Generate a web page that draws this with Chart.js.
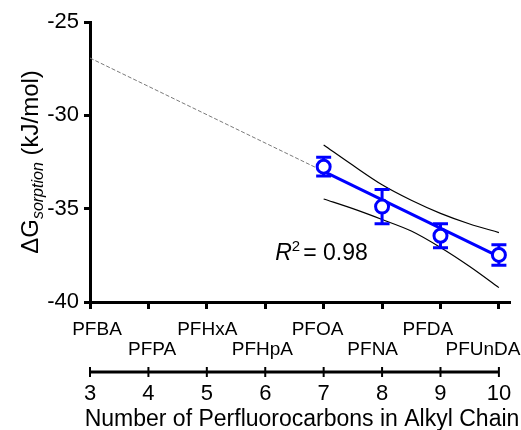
<!DOCTYPE html>
<html>
<head>
<meta charset="utf-8">
<title>Sorption free energy vs chain length</title>
<script src="https://cdn.jsdelivr.net/npm/chart.js@4.4.1/dist/chart.umd.min.js"></script>
<style>
  html, body { margin: 0; padding: 0; background: #fff; }
  canvas { display: block; }
</style>
</head>
<body>
<canvas id="chart" width="521" height="430"></canvas>
<script>
// chain length (number of perfluorinated carbons) and the acid for each
const carbons = [3, 4, 5, 6, 7, 8, 9, 10];
const acids = ['PFBA', 'PFPA', 'PFHxA', 'PFHpA', 'PFOA', 'PFNA', 'PFDA', 'PFUnDA'];

// measured dG of sorption (kJ/mol) with error
const measuredX = [7, 8, 9, 10];
const measuredG = [-32.75, -34.89, -36.45, -37.48];
const measuredErr = [0.5, 0.92, 0.64, 0.55];

// linear fit: dashed extrapolation 3..7, solid over the data 7..10
const fitX = [3, 7, 10];
const fitG = [-26.93, -33.0, -37.57];

// 95% confidence band of the fit
const bandX = [7, 7.5, 8, 8.5, 9, 9.5, 10];
const bandUpper = [-31.59, -32.68, -33.72, -34.55, -35.25, -35.82, -36.28];
const bandLower = [-34.48, -35.0, -35.58, -36.2, -37.08, -38.1, -39.23];

const rSquared = 0.98;

const FONT = "'Liberation Sans', Arial, Helvetica, sans-serif";
const BLUE = '#0000ff';

const pts = (xs, ys) => xs.map((x, i) => ({ x, y: ys[i] }));

// error bars go under the circles, so draw them just before the point dataset
const errorBars = {
  id: 'errorBars',
  beforeDatasetDraw(chart, args) {
    if (args.meta.label !== 'measured') return;
    const { ctx, scales: { x, y } } = chart;
    ctx.save();
    ctx.strokeStyle = BLUE;
    ctx.lineWidth = 3;
    measuredX.forEach((v, i) => {
      const px = x.getPixelForValue(v);
      const top = y.getPixelForValue(measuredG[i] + measuredErr[i]);
      const bot = y.getPixelForValue(measuredG[i] - measuredErr[i]);
      ctx.beginPath();
      ctx.moveTo(px, top); ctx.lineTo(px, bot);
      ctx.moveTo(px - 7.5, top); ctx.lineTo(px + 7.5, top);
      ctx.moveTo(px - 7.5, bot); ctx.lineTo(px + 7.5, bot);
      ctx.stroke();
    });
    ctx.restore();
  }
};

// second x axis: line 3..10 with ticks crossing it, and its title
const carbonAxis = {
  id: 'carbonAxis',
  afterDraw(chart) {
    const { ctx, chartArea } = chart;
    const s = chart.scales.n;
    const yy = s.top + 12;
    ctx.save();
    ctx.strokeStyle = '#000';
    ctx.lineWidth = 3;
    ctx.beginPath();
    ctx.moveTo(s.getPixelForValue(carbons[0]), yy);
    ctx.lineTo(s.getPixelForValue(carbons[carbons.length - 1]), yy);
    ctx.stroke();
    ctx.lineWidth = 2;
    carbons.forEach(v => {
      const px = s.getPixelForValue(v);
      ctx.beginPath();
      ctx.moveTo(px, yy - 5); ctx.lineTo(px, yy + 5);
      ctx.stroke();
    });
    ctx.fillStyle = '#000';
    ctx.font = '23px ' + FONT;
    ctx.textAlign = 'center';
    ctx.textBaseline = 'alphabetic';
    ctx.fillText('Number of Perfluorocarbons in Alkyl Chain', (chartArea.left + chartArea.right) / 2 + 2, 426);
    ctx.restore();
  }
};

// y title with italic subscript, plus the R^2 note
const labels = {
  id: 'labels',
  afterDraw(chart) {
    const { ctx, scales: { x, y }, chartArea } = chart;
    ctx.save();
    ctx.fillStyle = '#000';
    ctx.textBaseline = 'alphabetic';

    const parts = [
      { t: '\u0394G', f: '24px ' + FONT, dy: 0 },
      { t: 'sorption', f: 'italic 16px ' + FONT, dy: 5 },
      { t: ' (kJ/mol)', f: '24px ' + FONT, dy: 0 }
    ];
    let total = 0;
    parts.forEach(p => { ctx.font = p.f; p.w = ctx.measureText(p.t).width; total += p.w; });
    ctx.translate(38, (chartArea.top + chartArea.bottom) / 2);
    ctx.rotate(-Math.PI / 2);
    let cx = -total / 2;
    parts.forEach(p => {
      ctx.font = p.f;
      ctx.fillText(p.t, cx, p.dy);
      cx += p.w;
    });
    ctx.setTransform(1, 0, 0, 1, 0, 0);

    let rx = x.getPixelForValue(6.17);
    const ry = y.getPixelForValue(-37.75);
    ctx.font = 'italic 23px ' + FONT;
    ctx.fillText('R', rx, ry);
    rx += ctx.measureText('R').width;
    ctx.font = '15px ' + FONT;
    ctx.fillText('2', rx, ry - 9);
    rx += ctx.measureText('2').width + 3;
    ctx.font = '23px ' + FONT;
    ctx.fillText('= ' + rSquared.toFixed(2), rx, ry);
    ctx.restore();
  }
};

const noPad = s => { s.paddingLeft = 0; s.paddingRight = 0; s.paddingTop = 0; s.paddingBottom = 0; };

new Chart(document.getElementById('chart'), {
  type: 'scatter',
  data: {
    datasets: [
      {
        label: 'measured',
        data: pts(measuredX, measuredG),
        pointRadius: 6.5,
        pointBorderWidth: 3,
        pointBorderColor: BLUE,
        pointBackgroundColor: '#fff',
        showLine: false,
        order: 0
      },
      {
        label: 'fit',
        data: pts(fitX.slice(1), fitG.slice(1)),
        showLine: true,
        borderColor: BLUE,
        borderWidth: 3,
        pointRadius: 0,
        order: 1
      },
      {
        label: 'extrapolated',
        data: pts(fitX.slice(0, 2), fitG.slice(0, 2)),
        showLine: true,
        borderColor: '#7a7a7a',
        borderWidth: 1,
        borderDash: [4, 2],
        pointRadius: 0,
        order: 2
      },
      {
        label: 'upper',
        data: pts(bandX, bandUpper),
        showLine: true,
        borderColor: '#000',
        borderWidth: 1.2,
        cubicInterpolationMode: 'monotone',
        pointRadius: 0,
        order: 3
      },
      {
        label: 'lower',
        data: pts(bandX, bandLower),
        showLine: true,
        borderColor: '#000',
        borderWidth: 1.2,
        cubicInterpolationMode: 'monotone',
        pointRadius: 0,
        order: 3
      }
    ]
  },
  options: {
    responsive: false,
    animation: false,
    devicePixelRatio: 1,
    layout: { padding: { top: 22, right: 11, left: 0, bottom: 0 } },
    plugins: { legend: { display: false }, tooltip: { enabled: false } },
    scales: {
      x: {
        type: 'linear',
        position: 'bottom',
        weight: 0,
        min: 3,
        max: 10.19,
        border: { display: true, color: '#000', width: 3 },
        grid: { drawOnChartArea: false, drawTicks: true, tickLength: 7, tickWidth: 3, tickColor: '#000' },
        ticks: { display: false },
        afterBuildTicks: s => { s.ticks = carbons.map(v => ({ value: v })); },
        afterFit: s => { s.height = 8; noPad(s); }
      },
      names: {
        type: 'linear',
        position: 'bottom',
        weight: 1,
        min: -0.127,
        max: 7.49,
        border: { display: false },
        grid: { display: false, drawTicks: false },
        ticks: {
          autoSkip: false,
          maxRotation: 0,
          padding: 10,
          color: '#000',
          font: { family: FONT, size: 19, lineHeight: '20px' },
          // alternate rows so neighbouring names don't collide
          callback: v => (v % 2 === 0 ? [acids[v], ''] : ['', acids[v]])
        },
        afterBuildTicks: s => { s.ticks = acids.map((_, i) => ({ value: i })); },
        afterFit: s => { s.height = 50; noPad(s); }
      },
      n: {
        type: 'linear',
        position: 'bottom',
        weight: 2,
        min: 3,
        max: 10.19,
        border: { display: false },
        grid: { display: false, drawTicks: false },
        ticks: {
          autoSkip: false,
          maxRotation: 0,
          padding: 21,
          color: '#000',
          font: { family: FONT, size: 22 }
        },
        afterBuildTicks: s => { s.ticks = carbons.map(v => ({ value: v })); },
        afterFit: s => { s.height = 70; noPad(s); }
      },
      y: {
        type: 'linear',
        min: -40,
        max: -25,
        border: { display: true, color: '#000', width: 3 },
        grid: { drawOnChartArea: false, tickLength: 6, tickWidth: 3, tickColor: '#000' },
        ticks: { stepSize: 5, padding: 5, color: '#000', font: { family: FONT, size: 22 } },
        afterFit: s => { s.width = 90; noPad(s); }
      }
    }
  },
  plugins: [errorBars, carbonAxis, labels]
});
</script>
</body>
</html>
